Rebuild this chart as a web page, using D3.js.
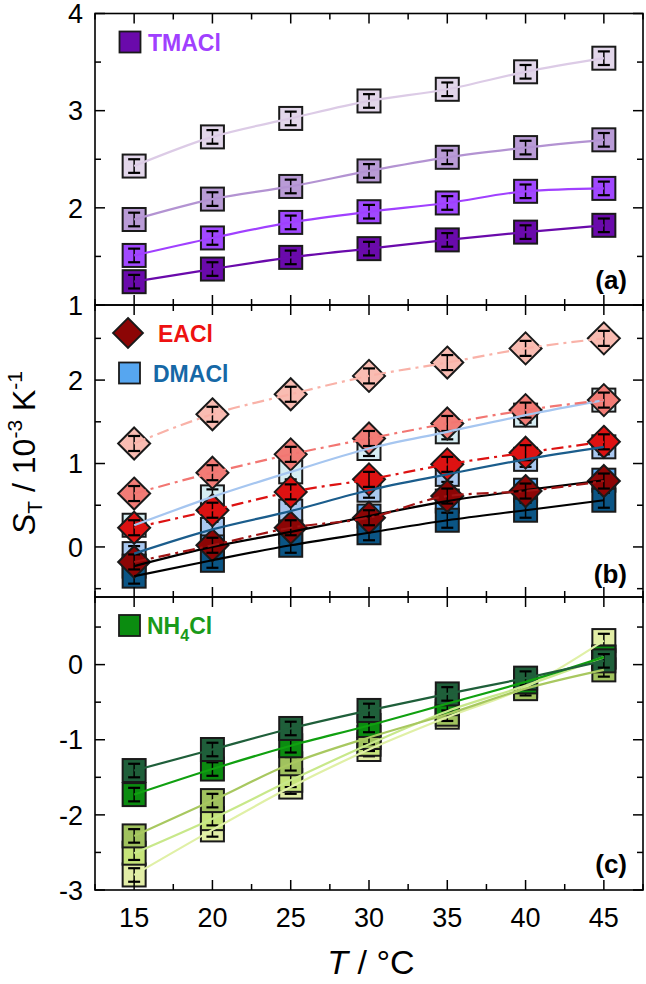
<!DOCTYPE html>
<html><head><meta charset="utf-8">
<script src="https://cdn.jsdelivr.net/npm/d3@7/dist/d3.min.js"></script>
<style>body{margin:0;background:#fff}svg{display:block}text{font-family:"Liberation Sans",Arial,sans-serif}</style>
</head><body><svg id="c" width="646" height="984"></svg>
<script>
// ---------- data ----------
const temps = [15, 20, 25, 30, 35, 40, 45];
const xTicks = [15, 20, 25, 30, 35, 40, 45];
const xMinor = [12.5, 17.5, 22.5, 27.5, 32.5, 37.5, 42.5, 47.5];

// panel (a) TMACl
const tmacl1 = [2.43, 2.73, 2.92, 3.10, 3.22, 3.40, 3.54];
const tmacl2 = [1.88, 2.09, 2.22, 2.38, 2.52, 2.62, 2.70];
const tmacl3 = [1.51, 1.69, 1.85, 1.96, 2.05, 2.17, 2.20];
const tmacl4 = [1.24, 1.37, 1.49, 1.58, 1.67, 1.75, 1.82];
const errA = [0.07, 0.07, 0.07, 0.07, 0.07, 0.07, 0.07];

// panel (b) DMACl and EACl
const dmacl1 = [0.26, 0.60, 0.90, 1.18, 1.38, 1.58, 1.76];
const dmacl2 = [-0.08, 0.21, 0.43, 0.68, 0.87, 1.05, 1.20];
const dmacl3 = [-0.23, 0.00, 0.18, 0.37, 0.55, 0.68, 0.80];
const dmacl4 = [-0.35, -0.16, 0.02, 0.17, 0.32, 0.44, 0.56];
const eacl1 = [1.24, 1.59, 1.83, 2.05, 2.21, 2.38, 2.50];
const eacl2 = [0.64, 0.89, 1.11, 1.30, 1.48, 1.64, 1.76];
const eacl3 = [0.23, 0.44, 0.66, 0.81, 0.99, 1.13, 1.26];
const eacl4 = [-0.18, 0.02, 0.23, 0.35, 0.61, 0.67, 0.79];
const errB = [0.09, 0.09, 0.09, 0.09, 0.09, 0.09, 0.09];

// panel (c) NH4Cl
const nh1 = [-1.41, -1.13, -0.85, -0.61, -0.39, -0.18, 0.05];
const nh2 = [-1.73, -1.39, -1.08, -0.81, -0.52, -0.23, 0.10];
const nh3 = [-2.28, -1.81, -1.32, -0.97, -0.66, -0.32, -0.07];
const nh4 = [-2.51, -2.05, -1.54, -1.06, -0.62, -0.28, 0.10];
const nh5 = [-2.80, -2.20, -1.63, -1.13, -0.70, -0.30, 0.32];
const errC = [0.09, 0.09, 0.09, 0.09, 0.09, 0.09, 0.09];

const ticksA = [1, 2, 3, 4], minorA = [1.5, 2.5, 3.5];
const ticksB = [0, 1, 2], minorB = [-0.5, 0.5, 1.5, 2.5];
const ticksC = [-3, -2, -1, 0], minorC = [-2.5, -1.5, -0.5, 0.5];

// ---------- drawing ----------
const svg = d3.select("#c");
const L = 95, R = 643;
const SQ = 23, DI = 16;
const x = d3.scaleLinear().domain([12.5, 47.5]).range([L, R]);

const panels = [
  {y: d3.scaleLinear().domain([1, 4]).range([305, 13.5]), ticks: ticksA, minor: minorA, label: "(a)", labelY: 289,
   series: [
     {v: tmacl1, e: errA, fill: "#e2d6ea", line: "#dccbe6", shape: "sq", dash: null},
     {v: tmacl2, e: errA, fill: "#b99bd6", line: "#b393d2", shape: "sq", dash: null},
     {v: tmacl3, e: errA, fill: "#a148ff", line: "#a040ff", shape: "sq", dash: null},
     {v: tmacl4, e: errA, fill: "#6a0aab", line: "#6a0aab", shape: "sq", dash: null}
   ]},
  {y: d3.scaleLinear().domain([-0.6, 2.9]).range([597, 305]), ticks: ticksB, minor: minorB, label: "(b)", labelY: 583,
   series: [
     {v: dmacl1, e: errB, fill: "#d6edf3", line: "#a6c6f0", shape: "sq", dash: null},
     {v: dmacl2, e: errB, fill: "#a9c8f0", line: "#1b5d8c", shape: "sq", dash: null},
     {v: dmacl3, e: errB, fill: "#56a6f0", line: "#000000", shape: "sq", dash: null},
     {v: dmacl4, e: errB, fill: "#0b5585", line: "#000000", shape: "sq", dash: null},
     {v: eacl1, e: errB, fill: "#f9bcb2", line: "#f9b2a8", shape: "di", dash: "12,5,3,5"},
     {v: eacl2, e: errB, fill: "#f27c76", line: "#f27672", shape: "di", dash: "12,5,3,5"},
     {v: eacl3, e: errB, fill: "#dd1212", line: "#dd1212", shape: "di", dash: "12,5,3,5"},
     {v: eacl4, e: errB, fill: "#8c0505", line: "#a01414", shape: "di", dash: "12,5,3,5"}
   ]},
  {y: d3.scaleLinear().domain([-3, 0.9]).range([890, 597]), ticks: ticksC, minor: minorC, label: "(c)", labelY: 873,
   series: [
     {v: nh5, e: errC, fill: "#e2eda6", line: "#e0f0a6", shape: "sq", dash: null},
     {v: nh4, e: errC, fill: "#c6e47a", line: "#c8e88a", shape: "sq", dash: null},
     {v: nh3, e: errC, fill: "#a0c25e", line: "#a8c860", shape: "sq", dash: null},
     {v: nh2, e: errC, fill: "#0b8c10", line: "#10a010", shape: "sq", dash: null},
     {v: nh1, e: errC, fill: "#1f5f3a", line: "#1f5f3a", shape: "sq", dash: null}
   ]}
];

panels.forEach(p => {
  const y = p.y;
  const [y0, y1] = y.range(); // bottom, top
  const g = svg.append("g");
  // markers
  p.series.forEach(s => {
    const pts = temps.map((t, i) => ({t, v: s.v[i], e: s.e[i]}));
    pts.forEach(d => {
      const cx = x(d.t), cy = y(d.v);
      if (s.shape === "sq") {
        g.append("rect").attr("x", cx - SQ / 2).attr("y", cy - SQ / 2).attr("width", SQ).attr("height", SQ)
          .attr("fill", s.fill).attr("stroke", "#1a1a1a").attr("stroke-width", 2);
      } else {
        g.append("path").attr("d", `M${cx},${cy - DI}L${cx + DI},${cy}L${cx},${cy + DI}L${cx - DI},${cy}Z`)
          .attr("fill", s.fill).attr("stroke", "#1a1a1a").attr("stroke-width", 2);
      }
      const yt = y(d.v + d.e), yb = y(d.v - d.e);
      g.append("line").attr("x1", cx).attr("x2", cx).attr("y1", yt).attr("y2", yb).attr("stroke", "#000").attr("stroke-width", 1.5);
      [yt, yb].forEach(yy => g.append("line").attr("x1", cx - 6).attr("x2", cx + 6).attr("y1", yy).attr("y2", yy).attr("stroke", "#000").attr("stroke-width", 2.2));
    });
  });
  // lines
  p.series.forEach(s => {
    const line = d3.line().x((d, i) => x(temps[i])).y(d => y(d)).curve(d3.curveMonotoneX);
    g.append("path").attr("d", line(s.v)).attr("fill", "none").attr("stroke", s.line)
      .attr("stroke-width", 2.2).attr("stroke-dasharray", s.dash);
  });
  // frame
  svg.append("rect").attr("x", L).attr("y", y1).attr("width", R - L).attr("height", y0 - y1)
    .attr("fill", "none").attr("stroke", "#000").attr("stroke-width", 1.6);
  // ticks (inward)
  const tk = svg.append("g").attr("stroke", "#000").attr("stroke-width", 1.5);
  xTicks.forEach(t => {
    tk.append("line").attr("x1", x(t)).attr("x2", x(t)).attr("y1", y0).attr("y2", y0 - 10);
    tk.append("line").attr("x1", x(t)).attr("x2", x(t)).attr("y1", y1).attr("y2", y1 + 10);
  });
  xMinor.forEach(t => {
    tk.append("line").attr("x1", x(t)).attr("x2", x(t)).attr("y1", y0).attr("y2", y0 - 6);
    tk.append("line").attr("x1", x(t)).attr("x2", x(t)).attr("y1", y1).attr("y2", y1 + 6);
  });
  p.ticks.forEach(t => {
    tk.append("line").attr("x1", L).attr("x2", L + 10).attr("y1", y(t)).attr("y2", y(t));
    tk.append("line").attr("x1", R).attr("x2", R - 10).attr("y1", y(t)).attr("y2", y(t));
  });
  p.minor.forEach(t => {
    tk.append("line").attr("x1", L).attr("x2", L + 6).attr("y1", y(t)).attr("y2", y(t));
    tk.append("line").attr("x1", R).attr("x2", R - 6).attr("y1", y(t)).attr("y2", y(t));
  });
  // y tick labels
  p.ticks.forEach(t => {
    svg.append("text").attr("x", 83).attr("y", y(t)).attr("dy", "0.36em").attr("text-anchor", "end")
      .attr("font-size", 27).text(t < 0 ? "-" + Math.abs(t) : t);
  });
  // panel label
  svg.append("text").attr("x", 627).attr("y", p.labelY).attr("text-anchor", "end")
    .attr("font-size", 26).attr("font-weight", "bold").text(p.label);
});

// x tick labels
xTicks.forEach(t => {
  svg.append("text").attr("x", x(t)).attr("y", 927).attr("text-anchor", "middle").attr("font-size", 27).text(t);
});

// axis titles
const xt = svg.append("text").attr("x", 371).attr("y", 974).attr("text-anchor", "middle").attr("font-size", 34);
xt.append("tspan").attr("font-style", "italic").text("T");
xt.append("tspan").text(" / °C");

const yt = svg.append("text").attr("transform", "translate(35,453) rotate(-90)").attr("text-anchor", "middle").attr("font-size", 32);
yt.append("tspan").attr("font-style", "italic").text("S");
yt.append("tspan").attr("font-size", 21).attr("dy", 7).text("T");
yt.append("tspan").attr("dy", -7).text(" / 10");
yt.append("tspan").attr("font-size", 21).attr("dy", -13).text("-3");
yt.append("tspan").attr("dy", 13).text(" K");
yt.append("tspan").attr("font-size", 21).attr("dy", -13).text("-1");

// legends
function legSq(cx, cy, fill) {
  svg.append("rect").attr("x", cx - 10.5).attr("y", cy - 10.5).attr("width", 21).attr("height", 21)
    .attr("fill", fill).attr("stroke", "#1a1a1a").attr("stroke-width", 1.8);
}
function legText(tx, ty, color, txt) {
  return svg.append("text").attr("x", tx).attr("y", ty).attr("font-size", 23).attr("font-weight", "bold").attr("fill", color).text(txt);
}
legSq(130, 42, "#6a0aab"); legText(148, 51, "#a040ff", "TMACl");
svg.append("path").attr("d", "M128,318L143,333L128,348L113,333Z").attr("fill", "#8c0505").attr("stroke", "#1a1a1a").attr("stroke-width", 1.8);
legText(158, 342, "#ee1111", "EACl");
legSq(129.5, 373, "#56a6f0"); legText(153, 382, "#1668a6", "DMACl");
legSq(129.5, 625.5, "#0b8c10");
const nt = svg.append("text").attr("x", 147).attr("y", 634).attr("font-size", 23).attr("font-weight", "bold").attr("fill", "#1a9a1a");
nt.append("tspan").text("NH");
nt.append("tspan").attr("font-size", 16).attr("dy", 7).text("4");
nt.append("tspan").attr("dy", -7).text("Cl");
</script></body></html>
